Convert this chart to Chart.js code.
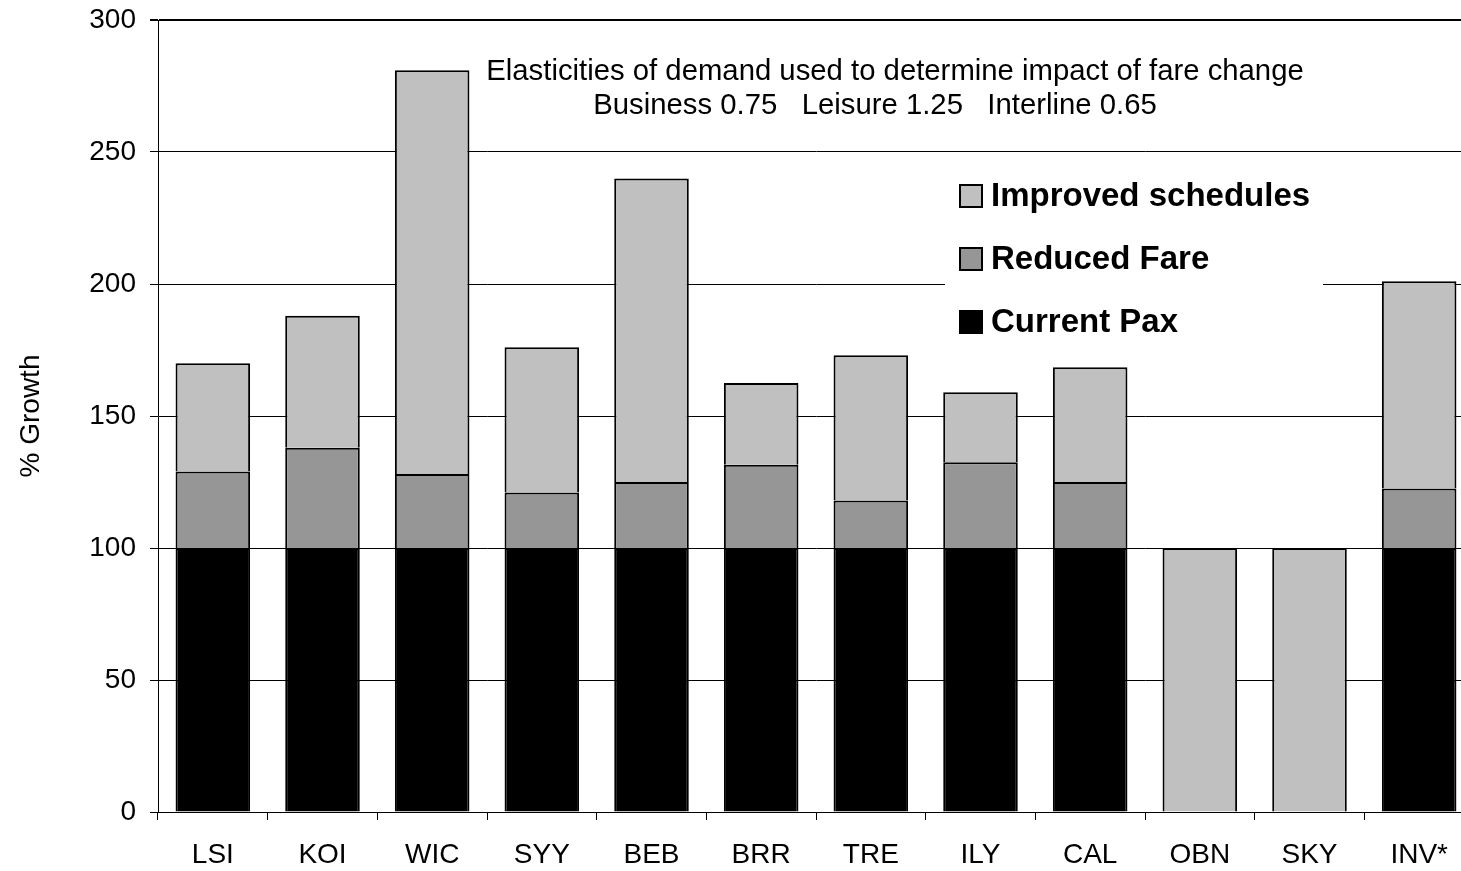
<!DOCTYPE html>
<html>
<head>
<meta charset="utf-8">
<script src="https://cdn.jsdelivr.net/npm/chart.js@4.4.1/dist/chart.umd.min.js"></script>
<style>
  html, body { margin: 0; padding: 0; background: #fff; overflow: hidden; }
  #wrap { position: absolute; left: 0; top: 0; width: 1476px; height: 871px; }
</style>
</head>
<body>
<div id="wrap"><canvas id="chart"></canvas></div>
<script>
// Routes and growth components (% of current passengers)
const categories = ['LSI', 'KOI', 'WIC', 'SYY', 'BEB', 'BRR', 'TRE', 'ILY', 'CAL', 'OBN', 'SKY', 'INV*'];
const currentPax = [100, 100, 100, 100, 100, 100, 100, 100, 100, null, null, 100];
const reducedFare = [29, 38, 28, 21, 25, 31.5, 18, 32.5, 25, null, null, 22.5];
const improvedSchedules = [41, 50, 153, 55, 115, 31, 55, 26.5, 43.5, 100, 100, 78.5];

const seriesNames = ['Current Pax', 'Reduced Fare', 'Improved schedules'];
const seriesColors = ['#000000', '#969696', '#c0c0c0'];
const noteLines = [
  'Elasticities of demand used to determine impact of fare change',
  'Business 0.75   Leisure 1.25   Interline 0.65'
];
const yTitle = '% Growth';

const FONT = '"Liberation Sans", Arial, Helvetica, sans-serif';

// Text note drawn inside the plot area
const notePlugin = {
  id: 'note',
  afterDraw(chart) {
    const ctx = chart.ctx;
    ctx.save();
    ctx.fillStyle = '#000';
    ctx.font = '29.3px ' + FONT;
    ctx.textAlign = 'center';
    ctx.textBaseline = 'middle';
    ctx.fillText(noteLines[0], 895, 72);
    ctx.fillText(noteLines[1], 875, 106);
    ctx.restore();
  }
};

// Boxed legend with white background sitting over the gridlines
const boxLegendPlugin = {
  id: 'boxLegend',
  afterDatasetsDraw(chart) {
    const ctx = chart.ctx;
    const ds = chart.data.datasets;
    ctx.save();
    ctx.fillStyle = '#fff';
    ctx.fillRect(945, 160, 378, 190);
    ctx.font = 'bold 33px ' + FONT;
    ctx.textBaseline = 'middle';
    ctx.textAlign = 'left';
    const order = [2, 1, 0];
    order.forEach((di, i) => {
      const cy = 196 + i * 63;
      ctx.fillStyle = ds[di].backgroundColor;
      ctx.fillRect(960, cy - 11, 22, 22);
      ctx.strokeStyle = '#000';
      ctx.lineWidth = 2;
      ctx.strokeRect(960, cy - 11, 22, 22);
      ctx.fillStyle = '#000';
      ctx.fillText(ds[di].label, 991, cy + 1);
    });
    ctx.restore();
  }
};

const datasets = [currentPax, reducedFare, improvedSchedules].map((vals, i) => ({
  label: seriesNames[i],
  data: vals,
  backgroundColor: seriesColors[i],
  borderColor: '#000',
  borderWidth: 2,
  barPercentage: 0.68,
  categoryPercentage: 1.0
}));

new Chart(document.getElementById('chart'), {
  type: 'bar',
  data: { labels: categories, datasets },
  options: {
    responsive: true,
    maintainAspectRatio: false,
    animation: false,
    layout: { padding: { top: 20, right: 2, left: 0, bottom: 0 } },
    plugins: {
      legend: { display: false },
      tooltip: { enabled: false }
    },
    scales: {
      x: {
        stacked: true,
        grid: {
          display: true,
          offset: true,
          drawOnChartArea: false,
          drawTicks: true,
          tickLength: 8,
          tickColor: '#000',
          tickWidth: 1
        },
        border: { display: true, color: '#000', width: 1 },
        ticks: { color: '#000', font: { family: FONT, size: 28 }, padding: 18, maxRotation: 0 },
        afterFit(scale) { scale.height = 59; scale.paddingLeft = 0; scale.paddingRight = 0; }
      },
      y: {
        stacked: true,
        min: 0,
        max: 300,
        grid: {
          color: '#000',
          lineWidth: (c) => (c.tick && c.tick.value === 300 ? 2 : 1),
          drawTicks: true,
          tickLength: 8,
          tickColor: '#000'
        },
        border: { display: true, color: '#000', width: 1 },
        ticks: { stepSize: 50, color: '#000', font: { family: FONT, size: 28 }, padding: 14 },
        title: {
          display: true,
          text: yTitle,
          color: '#000',
          font: { family: FONT, size: 28 },
          padding: { top: 14, bottom: 0 }
        },
        afterFit(scale) { scale.width = 158; scale.paddingTop = 0; scale.paddingBottom = 0; }
      }
    }
  },
  plugins: [boxLegendPlugin, notePlugin]
});
</script>
</body>
</html>
